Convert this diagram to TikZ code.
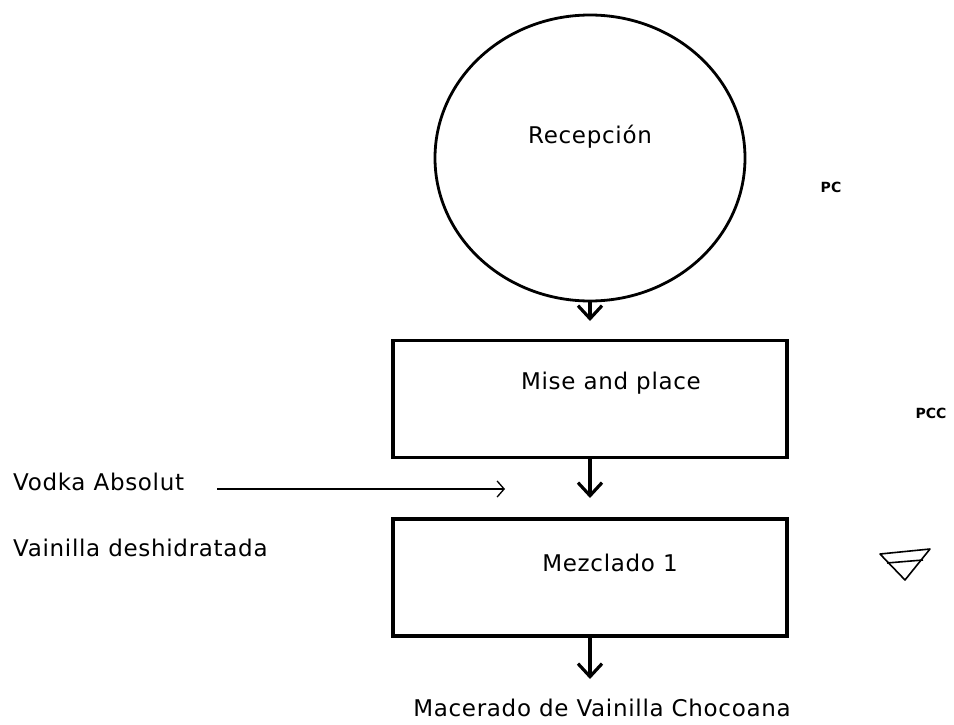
\documentclass[tikz,border=0pt]{standalone}
\usepackage{fontspec}
\setmainfont{DejaVu Sans}[LetterSpace=3]
\newfontfamily\smallbold{DejaVu Sans}
\usetikzlibrary{arrows.meta,shapes.geometric}
\tikzset{
  txt/.style={inner sep=0pt, font=\fontsize{23}{27}\selectfont},
  procbox/.style={draw, line width=3.2pt, rectangle, minimum width=394pt, minimum height=117pt, inner sep=0pt},
  flowarrow/.style={line width=3.2pt, -{Straight Barb[length=13pt, width=24pt, line width=3.2pt]}},
  feedarrow/.style={line width=1.3pt, -{Straight Barb[length=7pt, width=16pt, line width=1.3pt]}},
  tag/.style={inner sep=0pt, font=\smallbold\bfseries\fontsize{14}{16}\selectfont}
}
\begin{document}
\begin{tikzpicture}[x=1pt, y=-1pt]
\useasboundingbox (0,0) rectangle (954,725);
% reception circle
\node[draw, ellipse, line width=2.8pt, minimum width=310pt, minimum height=286pt, inner sep=0pt] (rec) at (590,158) {};
\node[txt] (rectxt) at (590,137) {Recepción};
% boxes
\node[procbox] (mise) at (590,399) {};
\node[txt] (misetxt) at (611,383) {Mise and place};
\node[procbox] (mez) at (590,577.5) {};
\node[txt] (meztxt) at (610,563) {Mezclado 1};
% arrow ends
\coordinate (a1) at (590,321);
\coordinate (a2) at (590,498);
\coordinate (a3) at (590,679);
\draw[flowarrow] (rec.south) -- (a1);
\draw[flowarrow] (mise.south) -- (a2);
\draw[flowarrow] (mez.south) -- (a3);
% output
\node[txt] (out) at (602,708) {Macerado de Vainilla Chocoana};
% inputs
\node[txt, anchor=west] (vodka) at (13,482) {Vodka Absolut};
\node[txt, anchor=west] (vain) at (13,548) {Vainilla deshidratada};
\coordinate (vs) at (217,489);
\coordinate (ve) at (505,489);
\draw[feedarrow] (vs) -- (ve);
% control point tags
\node[tag] (pc) at (831,187) {PC};
\node[tag] (pcc) at (931,413) {PCC};
% storage triangle
\coordinate (t1) at (880,554);
\coordinate (t2) at (930,549);
\coordinate (t3) at (905,580);
\coordinate (t4) at (887,563);
\coordinate (t5) at (923,560);
\draw[line width=1.6pt, line join=round] (t1) -- (t2) -- (t3) -- cycle;
\draw[line width=1.6pt] (t4) -- (t5);
\end{tikzpicture}
\end{document}
